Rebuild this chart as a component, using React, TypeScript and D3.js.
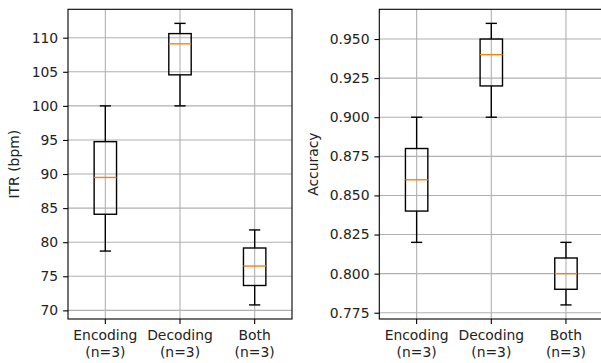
import React, { useRef, useEffect } from 'react';
import * as d3 from 'd3';

const categories = ['Encoding', 'Decoding', 'Both'];
const groupSizes = [3, 3, 3];

const itrEncoding = [78.7, 89.5, 100.0];
const itrDecoding = [100.0, 109.1, 112.1];
const itrBoth = [70.8, 76.5, 81.8];

const accEncoding = [0.82, 0.86, 0.9];
const accDecoding = [0.9, 0.94, 0.96];
const accBoth = [0.78, 0.8, 0.82];

const itrTicks = [70, 75, 80, 85, 90, 95, 100, 105, 110];
const accTicks = [0.775, 0.8, 0.825, 0.85, 0.875, 0.9, 0.925, 0.95];

const W = 601;
const H = 363;
const FONT = 'DejaVu Sans, sans-serif';
const FS = 13.9;

interface PanelSpec {
    groups: number[][];
    ticks: number[];
    fmt: (v: number) => string;
    label: string;
    left: number;
    right: number;
    labelX: number;
}

const App: React.FC = () => {
    const svgRef = useRef<SVGSVGElement | null>(null);

    useEffect(() => {
        const svg = d3.select(svgRef.current);
        svg.selectAll('*').remove();

        const top = 9.3;
        const bottom = 319;

        const panels: PanelSpec[] = [
            {
                groups: [itrEncoding, itrDecoding, itrBoth],
                ticks: itrTicks,
                fmt: d3.format('d'),
                label: 'ITR (bpm)',
                left: 68,
                right: 292,
                labelX: 14.3,
            },
            {
                groups: [accEncoding, accDecoding, accBoth],
                ticks: accTicks,
                fmt: d3.format('.3f'),
                label: 'Accuracy',
                left: 379.3,
                right: 603.3,
                labelX: 313,
            },
        ];

        panels.forEach(p => {
            const all = p.groups.flat();
            const lo = d3.min(all) as number;
            const hi = d3.max(all) as number;
            const pad = (hi - lo) * 0.05;

            const y = d3.scaleLinear().domain([lo - pad, hi + pad]).range([bottom, top]);
            const x = d3.scaleBand<string>().domain(categories).range([p.left, p.right]).padding(0);
            const cx = (c: string) => (x(c) as number) + x.bandwidth() / 2;
            const boxW = x.bandwidth() * 0.3;
            const capW = boxW / 2;

            const g = svg.append('g');

            // grid
            g.selectAll('.hgrid')
                .data(p.ticks)
                .enter()
                .append('line')
                .attr('x1', p.left)
                .attr('x2', p.right)
                .attr('y1', d => y(d))
                .attr('y2', d => y(d))
                .attr('stroke', '#b0b0b0')
                .attr('stroke-width', 1.1);
            g.selectAll('.vgrid')
                .data(categories)
                .enter()
                .append('line')
                .attr('x1', d => cx(d))
                .attr('x2', d => cx(d))
                .attr('y1', top)
                .attr('y2', bottom)
                .attr('stroke', '#b0b0b0')
                .attr('stroke-width', 1.1);

            // boxes
            p.groups.forEach((vals, i) => {
                const sorted = vals.slice().sort(d3.ascending);
                const q1 = d3.quantile(sorted, 0.25) as number;
                const med = d3.quantile(sorted, 0.5) as number;
                const q3 = d3.quantile(sorted, 0.75) as number;
                const iqr = q3 - q1;
                const wLo = d3.min(sorted.filter(v => v >= q1 - 1.5 * iqr)) as number;
                const wHi = d3.max(sorted.filter(v => v <= q3 + 1.5 * iqr)) as number;
                const c = cx(categories[i]);
                const bg = g.append('g').attr('fill', 'none').attr('stroke', '#000').attr('stroke-width', 1.39);

                bg.append('line').attr('x1', c).attr('x2', c).attr('y1', y(q1)).attr('y2', y(wLo));
                bg.append('line').attr('x1', c).attr('x2', c).attr('y1', y(q3)).attr('y2', y(wHi));
                bg.append('line').attr('x1', c - capW / 2).attr('x2', c + capW / 2).attr('y1', y(wLo)).attr('y2', y(wLo));
                bg.append('line').attr('x1', c - capW / 2).attr('x2', c + capW / 2).attr('y1', y(wHi)).attr('y2', y(wHi));
                bg.append('rect')
                    .attr('x', c - boxW / 2)
                    .attr('y', y(q3))
                    .attr('width', boxW)
                    .attr('height', y(q1) - y(q3));
                g.append('line')
                    .attr('x1', c - boxW / 2)
                    .attr('x2', c + boxW / 2)
                    .attr('y1', y(med))
                    .attr('y2', y(med))
                    .attr('stroke', '#ff7f0e')
                    .attr('stroke-width', 1.39);
            });

            // spines
            g.append('rect')
                .attr('x', p.left)
                .attr('y', top)
                .attr('width', p.right - p.left)
                .attr('height', bottom - top)
                .attr('fill', 'none')
                .attr('stroke', '#000')
                .attr('stroke-width', 1.1);

            // y axis
            const ya = g.append('g')
                .attr('transform', `translate(${p.left},0)`)
                .call(d3.axisLeft(y).tickValues(p.ticks).tickFormat(d => p.fmt(d as number)).tickSize(4.9).tickPadding(4.9));
            ya.select('.domain').remove();
            ya.selectAll('line').attr('stroke', '#000').attr('stroke-width', 1.1);
            ya.selectAll('text').attr('font-family', FONT).attr('font-size', FS).attr('fill', '#222');

            // x ticks
            categories.forEach((cat, i) => {
                const c = cx(cat);
                g.append('line')
                    .attr('x1', c)
                    .attr('x2', c)
                    .attr('y1', bottom)
                    .attr('y2', bottom + 4.9)
                    .attr('stroke', '#000')
                    .attr('stroke-width', 1.1);
                const t = g.append('text')
                    .attr('x', c)
                    .attr('y', 340)
                    .attr('text-anchor', 'middle')
                    .attr('font-family', FONT)
                    .attr('font-size', FS)
                    .attr('fill', '#222');
                t.append('tspan').attr('x', c).text(cat);
                t.append('tspan').attr('x', c).attr('dy', 16.7).text(`(n=${groupSizes[i]})`);
            });

            // y label
            g.append('text')
                .attr('transform', `translate(${p.labelX},${(top + bottom) / 2}) rotate(-90)`)
                .attr('dy', '0.35em')
                .attr('text-anchor', 'middle')
                .attr('font-family', FONT)
                .attr('font-size', FS)
                .attr('fill', '#222')
                .text(p.label);
        });
    }, []);

    return (
        <svg
            ref={svgRef}
            width={W}
            height={H}
            style={{ position: 'absolute', left: 0, top: 0, background: '#fff' }}
        />
    );
};

export default App;
